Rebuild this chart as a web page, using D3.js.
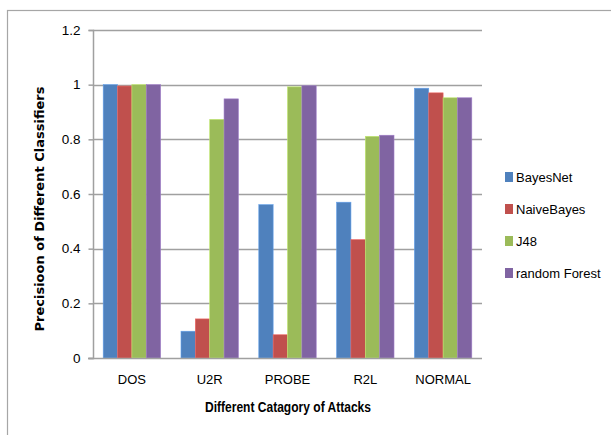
<!DOCTYPE html>
<html>
<head>
<meta charset="utf-8">
<script src="https://cdn.jsdelivr.net/npm/d3@7"></script>
<style>
  html, body { margin: 0; padding: 0; background: #fff; }
  svg { display: block; }
  text { font-family: "Liberation Sans Narrow", "Arial Narrow", "Liberation Sans", sans-serif; fill: #000; }
</style>
</head>
<body>
<svg id="chart" width="611" height="435"></svg>
<script>
// Attack categories along the x axis
const categories = ["DOS", "U2R", "PROBE", "R2L", "NORMAL"];

// Classifier names (legend order)
const classifiers = ["BayesNet", "NaiveBayes", "J48", "random Forest"];

// Precision per classifier, one value per category
const bayesNet     = [1.000, 0.098, 0.561, 0.570, 0.987];
const naiveBayes   = [0.995, 0.143, 0.085, 0.433, 0.970];
const j48          = [1.000, 0.873, 0.992, 0.811, 0.952];
const randomForest = [1.000, 0.948, 0.996, 0.815, 0.952];

// Y axis tick values and labels
const yTicks = [0, 0.2, 0.4, 0.6, 0.8, 1, 1.2];
const yTickLabels = ["0", "0.2", "0.4", "0.6", "0.8", "1", "1.2"];

const seriesValues = [bayesNet, naiveBayes, j48, randomForest];
const colors = ["#4F81BD", "#C0504D", "#9BBB59", "#8064A2"];

const svg = d3.select("#chart");

// Outer chart frame
svg.append("rect")
  .attr("x", 7.5).attr("y", 10.5)
  .attr("width", 620).attr("height", 440)
  .attr("fill", "none")
  .attr("stroke", "#a6a6a6")
  .attr("stroke-width", 1.2);

const plot = { left: 93, right: 482, top: 30, bottom: 358 };

const y = d3.scaleLinear().domain([0, 1.2]).range([plot.bottom, plot.top]);
const x0 = d3.scaleBand().domain(categories).range([plot.left, plot.right]).paddingInner(0).paddingOuter(0);
const groupGap = x0.step() * 0.262;
const x1 = d3.scaleBand().domain(classifiers)
  .range([groupGap / 2, x0.step() - groupGap / 2]).padding(0);

// Horizontal gridlines
svg.append("g")
  .selectAll("line")
  .data(yTicks.slice(1))
  .join("line")
  .attr("x1", plot.left).attr("x2", plot.right)
  .attr("y1", d => Math.round(y(d)) + 0.5).attr("y2", d => Math.round(y(d)) + 0.5)
  .attr("stroke", "#a0a0a0").attr("stroke-width", 1.5);

// Bars
const groups = svg.append("g")
  .selectAll("g")
  .data(categories)
  .join("g")
  .attr("transform", d => `translate(${x0(d)},0)`);

groups.selectAll("rect")
  .data((cat, i) => classifiers.map((c, s) => ({ c, s, v: seriesValues[s][i] })))
  .join("rect")
  .attr("x", d => x1(d.c))
  .attr("width", x1.bandwidth())
  .attr("y", d => y(d.v))
  .attr("height", d => y(0) - y(d.v))
  .attr("fill", d => colors[d.s])
  .attr("stroke", d => d3.color(colors[d.s]).brighter(0.6))
  .attr("stroke-width", 0.6);

// Y axis
const yAxis = d3.axisLeft(y)
  .tickValues(yTicks)
  .tickFormat((d, i) => yTickLabels[i])
  .tickSize(5)
  .tickPadding(8);

const yg = svg.append("g")
  .attr("transform", `translate(${plot.left + 0.5},0)`)
  .call(yAxis);
yg.select(".domain").attr("stroke", "#a0a0a0").attr("stroke-width", 1.5).attr("d", `M-5,${plot.top + 0.5}H0V${plot.bottom + 0.5}H-5`);
yg.selectAll(".tick line").attr("stroke", "#a0a0a0").attr("stroke-width", 1.5);
yg.selectAll(".tick text")
  .attr("font-size", 13.5)
  .attr("font-family", "\"Liberation Sans Narrow\", \"Arial Narrow\", \"Liberation Sans\", sans-serif")
  .attr("fill", "#000");

// X axis (baseline and category labels)
const xAxis = d3.axisBottom(x0).tickSize(0).tickPadding(16);
const xg = svg.append("g")
  .attr("transform", `translate(0,${plot.bottom + 0.5})`)
  .call(xAxis);
xg.select(".domain").attr("stroke", "#a0a0a0").attr("stroke-width", 1.5).attr("d", `M${plot.left - 5},0H${plot.right}`);
xg.selectAll(".tick text")
  .attr("font-size", 13)
  .attr("font-family", "\"Liberation Sans Narrow\", \"Arial Narrow\", \"Liberation Sans\", sans-serif")
  .attr("fill", "#000");

// Axis titles
svg.append("text")
  .attr("x", 288).attr("y", 412)
  .attr("text-anchor", "middle")
  .attr("font-size", 14)
  .attr("font-weight", "bold")
  .attr("textLength", 166)
  .attr("lengthAdjust", "spacingAndGlyphs")
  .text("Different Catagory of Attacks");

svg.append("text")
  .attr("transform", "translate(44,209) rotate(-90)")
  .attr("text-anchor", "middle")
  .attr("font-size", 13)
  .attr("font-weight", "bold")
  .style("font-family", "\"DejaVu Sans\", Verdana, sans-serif")
  .attr("textLength", 245)
  .attr("lengthAdjust", "spacingAndGlyphs")
  .text("Precisioon of Different Classifiers");

// Legend
const legend = svg.append("g")
  .selectAll("g")
  .data(classifiers)
  .join("g")
  .attr("transform", (d, i) => `translate(505,${177 + i * 32})`);

legend.append("rect")
  .attr("x", 0).attr("y", -5)
  .attr("width", 8).attr("height", 10)
  .attr("fill", (d, i) => colors[i]);

legend.append("text")
  .attr("x", 11).attr("y", 0)
  .attr("dy", "0.35em")
  .attr("font-size", 13)
  .text(d => d);
</script>
</body>
</html>
